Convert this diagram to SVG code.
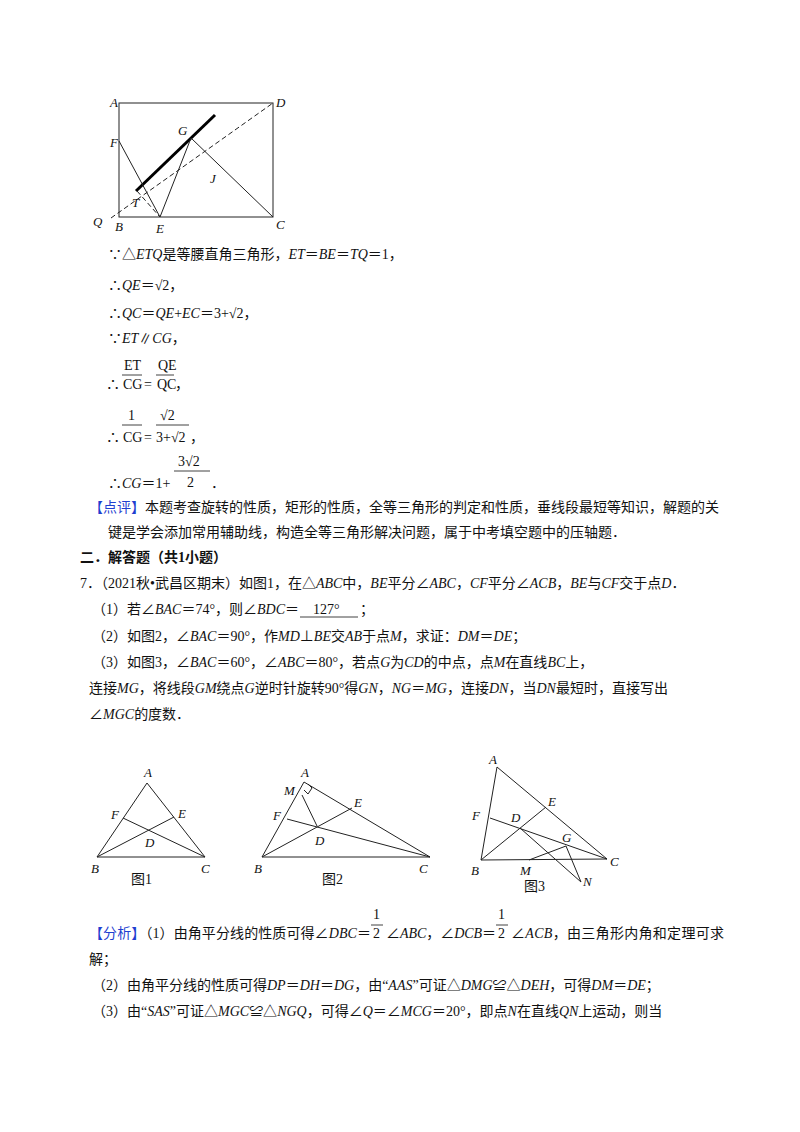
<svg xmlns="http://www.w3.org/2000/svg" width="800" height="1132" viewBox="0 0 800 1132">
<style>
text{font-family:"Liberation Serif","Noto Sans CJK SC",serif;font-size:14px;fill:#111}
.i{font-style:italic}
.b{fill:#1f3fd0}
.lb{font-size:13px;font-style:italic}
.ln{stroke:#222;stroke-width:1;fill:none}
.d{stroke:#222;stroke-width:1;fill:none;stroke-dasharray:5,3}
.bar{stroke:#111;stroke-width:0.8}
</style>
<rect width="800" height="1132" fill="#fff"/>
<g id="fig-top">
<rect x="119" y="103" width="154" height="114" class="ln"/>
<line x1="136" y1="191" x2="215" y2="115" stroke="#000" stroke-width="3"/>
<line x1="111" y1="218" x2="273" y2="103" class="d"/>
<line x1="137" y1="191" x2="160" y2="217" class="d"/>
<polyline points="119,141 160,217 191,138 273,217" class="ln"/>
<text x="110" y="107" class="lb">A</text><text x="276" y="107" class="lb">D</text>
<text x="110" y="147" class="lb">F</text><text x="178" y="135" class="lb">G</text>
<text x="210" y="183" class="lb">J</text><text x="132" y="207" class="lb">T</text>
<text x="93" y="226" class="lb">Q</text><text x="115" y="231" class="lb">B</text>
<text x="156" y="233" class="lb">E</text><text x="276" y="229" class="lb">C</text>
</g>
<g id="text-top">
<text x="108" y="259">∵△<tspan class="i">ETQ</tspan>是等腰直角三角形，<tspan class="i">ET</tspan>＝<tspan class="i">BE</tspan>＝<tspan class="i">TQ</tspan>＝1，</text>
<text x="108" y="290">∴<tspan class="i">QE</tspan>＝√2，</text>
<text x="108" y="318">∴<tspan class="i">QC</tspan>＝<tspan class="i">QE</tspan>+<tspan class="i">EC</tspan>＝3+√2，</text>
<text x="108" y="343">∵<tspan class="i">ET</tspan>∥<tspan class="i">CG</tspan>，</text>
<text x="106" y="389">∴</text>
<text x="124" y="370" font-size="12">ET</text><line x1="122" y1="375" x2="142" y2="375" class="bar"/><text x="123" y="389" font-size="12">CG</text>
<text x="144" y="389">=</text>
<text x="158" y="370" font-size="12">QE</text><line x1="156" y1="375" x2="174" y2="375" class="bar"/><text x="157" y="389" font-size="12">QC</text>
<text x="175" y="389">，</text>
<text x="106" y="442">∴</text>
<text x="128" y="420" font-size="12">1</text><line x1="122" y1="425" x2="142" y2="425" class="bar"/><text x="123" y="442" font-size="12">CG</text>
<text x="144" y="442">=</text>
<text x="160" y="420" font-size="13">√2</text><line x1="156" y1="425" x2="189" y2="425" class="bar"/><text x="156" y="442" font-size="13">3+√2</text>
<text x="190" y="442">，</text>
<text x="108" y="488">∴<tspan class="i">CG</tspan>＝1+</text>
<text x="178" y="466" font-size="13">3√2</text><line x1="174" y1="471" x2="210" y2="471" class="bar"/><text x="187" y="487" font-size="13">2</text>
<text x="211" y="488">．</text>
</g>
<g id="text-mid">
<text x="89" y="512"><tspan class="b">【点评】</tspan>本题考查旋转的性质，矩形的性质，全等三角形的判定和性质，垂线段最短等知识，解题的关</text>
<text x="108" y="537">键是学会添加常用辅助线，构造全等三角形解决问题，属于中考填空题中的压轴题．</text>
<text x="80" y="562" font-weight="bold">二．解答题（共1小题）</text>
<text x="80" y="588">7．（2021秋•武昌区期末）如图1，在△<tspan class="i">ABC</tspan>中，<tspan class="i">BE</tspan>平分∠<tspan class="i">ABC</tspan>，<tspan class="i">CF</tspan>平分∠<tspan class="i">ACB</tspan>，<tspan class="i">BE</tspan>与<tspan class="i">CF</tspan>交于点<tspan class="i">D</tspan>．</text>
<text x="92" y="614">（1）若∠<tspan class="i">BAC</tspan>＝74°，则∠<tspan class="i">BDC</tspan>＝</text>
<text x="313" y="614">127°</text>
<line x1="300" y1="617" x2="358" y2="617" class="bar"/>
<text x="360" y="614">；</text>
<text x="92" y="641">（2）如图2，∠<tspan class="i">BAC</tspan>＝90°，作<tspan class="i">MD</tspan>⊥<tspan class="i">BE</tspan>交<tspan class="i">AB</tspan>于点<tspan class="i">M</tspan>，求证：<tspan class="i">DM</tspan>＝<tspan class="i">DE</tspan>；</text>
<text x="92" y="667">（3）如图3，∠<tspan class="i">BAC</tspan>＝60°，∠<tspan class="i">ABC</tspan>＝80°，若点<tspan class="i">G</tspan>为<tspan class="i">CD</tspan>的中点，点<tspan class="i">M</tspan>在直线<tspan class="i">BC</tspan>上，</text>
<text x="89" y="693">连接<tspan class="i">MG</tspan>，将线段<tspan class="i">GM</tspan>绕点<tspan class="i">G</tspan>逆时针旋转90°得<tspan class="i">GN</tspan>，<tspan class="i">NG</tspan>＝<tspan class="i">MG</tspan>，连接<tspan class="i">DN</tspan>，当<tspan class="i">DN</tspan>最短时，直接写出</text>
<text x="89" y="719">∠<tspan class="i">MGC</tspan>的度数．</text>
</g>
<g id="fig1">
<polygon points="147,783 97,857 205,857" class="ln"/>
<line x1="97" y1="857" x2="174" y2="817" class="ln"/>
<line x1="205" y1="857" x2="123" y2="818" class="ln"/>
<text x="144" y="777" class="lb">A</text><text x="111" y="819" class="lb">F</text><text x="178" y="818" class="lb">E</text>
<text x="145" y="847" class="lb">D</text><text x="91" y="873" class="lb">B</text><text x="201" y="873" class="lb">C</text>
<text x="131" y="884" font-size="13" fill="#555">图1</text>
</g>
<g id="fig2">
<polygon points="304,782 262,857 430,857" class="ln"/>
<line x1="262" y1="857" x2="352" y2="808" class="ln"/>
<line x1="430" y1="857" x2="287" y2="819" class="ln"/>
<line x1="302" y1="795" x2="317" y2="826" class="ln"/>
<polyline points="308,784 312,788 308,794 304,790" class="ln"/>
<text x="301" y="777" class="lb">A</text><text x="284" y="795" class="lb">M</text><text x="354" y="807" class="lb">E</text>
<text x="273" y="820" class="lb">F</text><text x="315" y="845" class="lb">D</text><text x="254" y="873" class="lb">B</text><text x="419" y="873" class="lb">C</text>
<text x="322" y="884" font-size="13" fill="#555">图2</text>
</g>
<g id="fig3">
<polygon points="497,767 481,860 607,859" class="ln"/>
<line x1="481" y1="860" x2="546" y2="807" class="ln"/>
<line x1="607" y1="859" x2="490" y2="818" class="ln"/>
<polyline points="529,860 566,846 581,882 520,828" class="ln"/>
<text x="489" y="764" class="lb">A</text><text x="548" y="806" class="lb">E</text><text x="472" y="820" class="lb">F</text>
<text x="511" y="822" class="lb">D</text><text x="562" y="842" class="lb">G</text><text x="471" y="875" class="lb">B</text>
<text x="520" y="875" class="lb">M</text><text x="610" y="866" class="lb">C</text><text x="583" y="886" class="lb">N</text>
<text x="524" y="891" font-size="13" fill="#555">图3</text>
</g>
<g id="text-bottom">
<text x="89" y="938" textLength="282" lengthAdjust="spacing"><tspan class="b">【分析】</tspan>（1）由角平分线的性质可得∠<tspan class="i">DBC</tspan>＝</text>
<text x="373" y="919" font-size="14">1</text><line x1="371" y1="925" x2="383" y2="925" class="bar"/><text x="373" y="938" font-size="14">2</text>
<text x="386" y="938" textLength="110" lengthAdjust="spacing">∠<tspan class="i">ABC</tspan>，∠<tspan class="i">DCB</tspan>＝</text>
<text x="498" y="919" font-size="14">1</text><line x1="496" y1="925" x2="508" y2="925" class="bar"/><text x="498" y="938" font-size="14">2</text>
<text x="511" y="938" textLength="213" lengthAdjust="spacing">∠<tspan class="i">ACB</tspan>，由三角形内角和定理可求</text>
<text x="89" y="964">解；</text>
<text x="92" y="990">（2）由角平分线的性质可得<tspan class="i">DP</tspan>＝<tspan class="i">DH</tspan>＝<tspan class="i">DG</tspan>，由“<tspan class="i">AAS</tspan>”可证△<tspan class="i">DMG</tspan>≌△<tspan class="i">DEH</tspan>，可得<tspan class="i">DM</tspan>＝<tspan class="i">DE</tspan>；</text>
<text x="92" y="1016">（3）由“<tspan class="i">SAS</tspan>”可证△<tspan class="i">MGC</tspan>≌△<tspan class="i">NGQ</tspan>，可得∠<tspan class="i">Q</tspan>＝∠<tspan class="i">MCG</tspan>＝20°，即点<tspan class="i">N</tspan>在直线<tspan class="i">QN</tspan>上运动，则当</text>
</g>
</svg>
